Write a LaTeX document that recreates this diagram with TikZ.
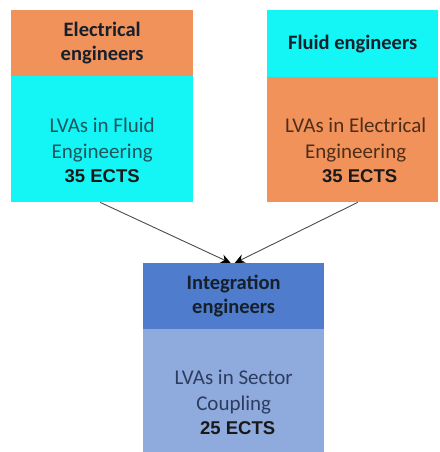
\documentclass[tikz,border=0pt]{standalone}
\usepackage{fontspec}
\setmainfont{Carlito}
\newfontfamily\ectsfont{Liberation Sans}
\usetikzlibrary{arrows.meta, positioning}
\definecolor{orangebox}{RGB}{240,146,90}
\definecolor{cyanbox}{RGB}{20,245,245}
\definecolor{bluehead}{RGB}{79,124,204}
\definecolor{bluebody}{RGB}{143,170,220}
\definecolor{headtext}{RGB}{22,32,44}
\definecolor{fluidtext}{RGB}{30,85,95}
\definecolor{electext}{RGB}{80,45,25}
\definecolor{sectortext}{RGB}{45,60,95}
\newcommand{\ects}[1]{{\ectsfont\bfseries\fontsize{18.5}{22}\selectfont\color{black!90}#1}}

\begin{document}
\begin{tikzpicture}[x=1pt, y=1pt,
  head/.style={rectangle, anchor=north west, inner sep=0pt, minimum height=66pt, align=center, font=\bfseries\fontsize{20.5}{24}\selectfont, text=headtext},
  body/.style={rectangle, anchor=north west, inner sep=0pt},
  bodytext/.style={align=center, font=\fontsize{21}{26}\selectfont, inner sep=0pt},
  arrow/.style={-{Stealth[length=10pt, width=9pt, black]}, black!70, line width=0.9pt}
]
\useasboundingbox (0,0) rectangle (439,452);

% two upper boxes
\node[head, fill=orangebox, minimum width=182pt] (lhead) at (11,442) {Electrical\\engineers};
\node[body, fill=cyanbox, minimum width=182pt, minimum height=126pt] (lbody) at (11,376) {};
\node[bodytext, text=fluidtext] (ltext) at ([yshift=-11pt]lbody.center) {LVAs in Fluid\\Engineering\\[-2pt]\ects{35 ECTS}};

\node[head, fill=cyanbox, minimum width=171pt, minimum height=67pt] (rhead) at (267,442) {Fluid engineers};
\node[body, fill=orangebox, minimum width=171pt, minimum height=125pt] (rbody) at (267,375) {};
\node[bodytext, text=electext] (rtext) at ([xshift=3pt, yshift=-11pt]rbody.center) {LVAs in Electrical\\Engineering\\[-2pt]\hspace*{8pt}\ects{35 ECTS}};

% lower box
\node[head, fill=bluehead, minimum width=181pt] (ihead) at (143,189) {Integration\\engineers};
\node[body, fill=bluebody, minimum width=181pt, minimum height=123pt] (ibody) at (143,123) {};
\node[bodytext, text=sectortext] (itext) at ([yshift=-12pt]ibody.center) {LVAs in Sector\\Coupling\\[-2pt]\hspace*{8pt}\ects{25 ECTS}};

\draw[arrow] ([xshift=-2pt]lbody.south) -- ([xshift=-3pt]ihead.north);
\draw[arrow] ([xshift=5pt]rbody.south) -- ([xshift=1pt]ihead.north);
\end{tikzpicture}
\end{document}
